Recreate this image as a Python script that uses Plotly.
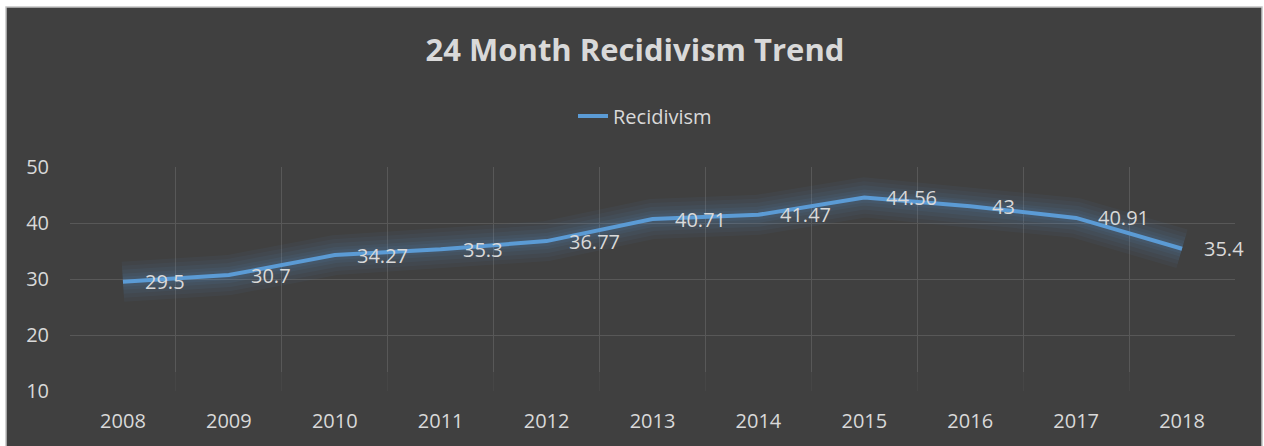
import plotly.graph_objects as go

years = ["2008", "2009", "2010", "2011", "2012", "2013", "2014", "2015", "2016", "2017", "2018"]
recidivism = [29.5, 30.7, 34.27, 35.3, 36.77, 40.71, 41.47, 44.56, 43, 40.91, 35.4]
y_ticks = [10, 20, 30, 40, 50]
y_grid = [20, 30, 40, 50]

W, H = 1264, 446
L, R, T, B = 70, 29, 167, 55
pw, ph = W - L - R, H - T - B

def px_x(px):
    return (px - L) / pw

def px_y(py):
    return (H - B - py) / ph

FONT = "Open Sans"
TXT = "#D9D9D9"
BLUE = "#5B9BD5"
GRID = "#585858"

fig = go.Figure()

# glow layers
for w, op in [(40, 0.05), (32, 0.05), (24, 0.06), (16, 0.07), (10, 0.08)]:
    fig.add_trace(go.Scatter(x=years, y=recidivism, mode="lines",
                             line=dict(color=BLUE, width=w), opacity=op,
                             showlegend=False, hoverinfo="skip"))

fig.add_trace(go.Scatter(x=years, y=recidivism, mode="lines", name="Recidivism",
                         line=dict(color=BLUE, width=4)))

for i, v in enumerate(recidivism):
    fig.add_annotation(x=i, y=v, text=f"{v:g}", showarrow=False,
                       xanchor="left", yanchor="middle", xshift=20,
                       font=dict(family=FONT, size=20, color=TXT))

# chart area background with light border
fig.add_shape(type="rect", xref="paper", yref="paper",
              x0=px_x(6), x1=px_x(1262), y0=px_y(470), y1=px_y(7),
              fillcolor="#404040", line=dict(color="#C4C4C4", width=1.5),
              layer="below")
# fade of the vertical gridlines near the bottom
fig.add_shape(type="rect", xref="paper", yref="paper",
              x0=px_x(66), x1=px_x(1240), y0=px_y(396), y1=px_y(372),
              fillcolor="#404040", opacity=0.75, line=dict(width=0),
              layer="above")

fig.update_layout(
    width=W, height=H,
    margin=dict(l=L, r=R, t=T, b=B),
    paper_bgcolor="white",
    plot_bgcolor="rgba(0,0,0,0)",
    title=dict(text="<b>24 Month Recidivism Trend</b>", x=635 / W, xanchor="center",
               xref="container", y=1 - 50 / H, yanchor="middle", yref="container",
               font=dict(family=FONT, size=31, color=TXT)),
    showlegend=True,
    legend=dict(orientation="h", x=645 / W, xanchor="center", xref="container",
                y=1 - 116 / H, yanchor="middle", yref="container",
                font=dict(family=FONT, size=20, color=TXT),
                bgcolor="rgba(0,0,0,0)"),
    xaxis=dict(type="category", range=[-0.5, 10.5], tickson="boundaries",
               showgrid=True, gridcolor=GRID, gridwidth=1,
               showline=False, zeroline=False, ticks="",
               ticklabelstandoff=16,
               tickfont=dict(family=FONT, size=20, color=TXT)),
    yaxis=dict(range=[10, 50], tickvals=y_ticks,
               showgrid=False, showline=False, zeroline=False, ticks="",
               ticklabelstandoff=20,
               tickfont=dict(family=FONT, size=20, color=TXT)),
    yaxis2=dict(range=[10, 50], tickvals=y_grid, overlaying="y", side="right",
                showgrid=True, gridcolor=GRID, gridwidth=1,
                showticklabels=False, showline=False, zeroline=False, ticks=""),
)
# invisible trace to activate the grid-only axis
fig.add_trace(go.Scatter(x=years, y=recidivism, yaxis="y2", mode="lines",
                         line=dict(width=0), opacity=0, showlegend=False,
                         hoverinfo="skip"))

fig.write_html("out.html", config={"displayModeBar": False},
               post_script="document.body.style.margin='0';document.body.style.overflow='hidden';")
